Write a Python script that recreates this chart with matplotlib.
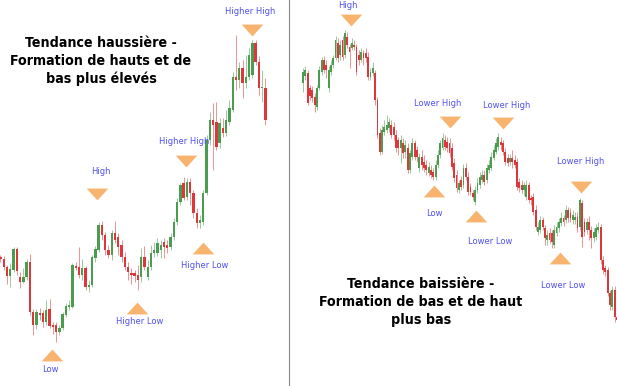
import matplotlib.pyplot as plt
from matplotlib.lines import Line2D
from matplotlib.path import Path
from matplotlib import font_manager

# ---- left panel: uptrend candles (price units)
up_open = [143, 141, 133, 124, 130, 151, 123, 118, 123, 138,
           88, 75, 87, 87, 78, 91, 75, 75, 68, 72,
           85, 93, 93, 134, 133, 125, 132, 113, 115, 142,
           150, 175, 165, 150, 145, 167, 163, 155, 143, 133,
           127, 127, 125, 123, 143, 123, 133, 147, 147, 150,
           158, 155, 153, 163, 178, 198, 217, 203, 218, 207,
           187, 177, 178, 207, 260, 280, 278, 257, 272, 267,
           278, 290, 323, 320, 332, 317, 323, 325, 357, 338,
           312, 312]
up_high = [145, 144, 135, 137, 153, 153, 128, 132, 141, 146,
           91, 91, 92, 90, 100, 101, 78, 78, 75, 88,
           97, 100, 137, 138, 153, 141, 134, 120, 145, 154,
           178, 179, 168, 155, 170, 179, 167, 160, 148, 138,
           132, 130, 135, 152, 154, 140, 155, 158, 162, 160,
           162, 160, 167, 182, 202, 217, 223, 222, 222, 210,
           192, 185, 210, 265, 288, 297, 298, 282, 282, 290,
           300, 328, 365, 338, 340, 345, 352, 360, 360, 344,
           330, 322]
up_low = [138, 130, 116, 113, 128, 125, 112, 117, 120, 85,
          65, 71, 80, 73, 75, 72, 66, 58, 65, 70,
          83, 90, 92, 130, 122, 120, 110, 108, 113, 138,
          148, 160, 145, 142, 140, 157, 145, 138, 130, 120,
          116, 118, 110, 118, 130, 120, 130, 143, 144, 142,
          142, 147, 150, 160, 175, 195, 200, 200, 195, 182,
          172, 172, 175, 205, 255, 230, 250, 252, 263, 264,
          275, 288, 310, 312, 302, 312, 320, 322, 335, 305,
          298, 275]
up_close = [141, 133, 124, 131, 151, 129, 118, 123, 138, 88,
            75, 88, 85, 78, 90, 74, 73, 68, 72, 86,
            94, 95, 135, 132, 125, 132, 113, 115, 143, 151,
            175, 165, 150, 145, 167, 160, 153, 143, 133, 128,
            125, 124, 120, 143, 133, 133, 147, 150, 157, 155,
            153, 152, 163, 178, 198, 215, 202, 218, 207, 187,
            177, 180, 207, 260, 280, 275, 253, 277, 267, 280,
            292, 323, 320, 332, 317, 323, 345, 357, 338, 312,
            313, 280]

# ---- right panel: downtrend candles
dn_open = [317, 324, 327, 312, 310, 303, 293, 312, 328, 340,
           335, 312, 328, 335, 342, 357, 345, 360, 345, 363,
           353, 352, 355, 353, 345, 340, 347, 347, 343, 323,
           327, 327, 300, 267, 248, 268, 270, 272, 275, 273,
           265, 260, 252, 257, 248, 252, 230, 243, 257, 250,
           232, 243, 238, 235, 227, 230, 228, 223, 235, 245,
           252, 260, 258, 257, 252, 237, 225, 210, 220, 215,
           232, 223, 213, 207, 198, 210, 215, 220, 225, 220,
           230, 232, 242, 248, 253, 258, 257, 248, 242, 238,
           242, 240, 238, 218, 215, 210, 203, 215, 202, 203,
           190, 168, 170, 180, 172, 160, 167, 167, 155, 167,
           172, 177, 182, 180, 190, 187, 180, 180, 183, 173,
           197, 178, 170, 178, 170, 162, 163, 170, 173, 140,
           132, 130, 107, 93, 110, 83]
dn_high = [332, 334, 330, 315, 314, 307, 315, 334, 343, 344,
           340, 334, 340, 345, 364, 362, 360, 364, 370, 368,
           356, 362, 360, 356, 350, 352, 350, 352, 348, 332,
           338, 330, 303, 272, 275, 280, 285, 282, 280, 278,
           270, 263, 265, 262, 260, 257, 250, 262, 260, 254,
           247, 250, 245, 240, 238, 235, 232, 240, 250, 260,
           267, 265, 263, 262, 257, 242, 230, 220, 224, 236,
           237, 228, 217, 210, 214, 222, 228, 230, 230, 236,
           240, 248, 255, 262, 267, 263, 260, 252, 246, 246,
           250, 245, 242, 222, 220, 218, 220, 218, 205, 207,
           195, 178, 184, 183, 175, 170, 172, 170, 175, 178,
           182, 188, 185, 195, 193, 192, 190, 188, 188, 202,
           200, 182, 182, 184, 174, 172, 176, 178, 176, 144,
           135, 133, 110, 114, 114, 86]
dn_low = [308, 320, 295, 300, 298, 288, 290, 310, 325, 327,
          322, 308, 325, 332, 340, 338, 340, 340, 342, 352,
          332, 350, 350, 325, 335, 338, 335, 338, 320, 320,
          324, 295, 262, 245, 246, 265, 267, 268, 262, 260,
          248, 245, 237, 242, 242, 227, 227, 240, 240, 238,
          228, 230, 228, 225, 224, 222, 220, 220, 232, 242,
          250, 250, 248, 243, 230, 218, 208, 207, 210, 212,
          220, 205, 205, 200, 195, 207, 212, 217, 215, 217,
          227, 230, 240, 246, 250, 250, 245, 235, 234, 235,
          232, 232, 210, 208, 207, 205, 200, 197, 195, 185,
          170, 165, 167, 170, 155, 155, 157, 152, 152, 164,
          168, 174, 174, 177, 178, 178, 176, 176, 168, 170,
          153, 164, 166, 160, 152, 158, 160, 167, 136, 126,
          124, 104, 90, 90, 78, 75]
dn_close = [328, 330, 297, 304, 302, 295, 312, 330, 340, 330,
            330, 330, 335, 342, 360, 342, 355, 343, 367, 355,
            348, 357, 353, 328, 340, 348, 342, 342, 323, 328,
            332, 300, 265, 248, 270, 273, 275, 278, 265, 265,
            252, 252, 260, 247, 255, 230, 247, 257, 243, 243,
            243, 235, 232, 230, 233, 225, 223, 235, 245, 257,
            262, 253, 252, 247, 233, 222, 212, 217, 213, 232,
            223, 208, 208, 203, 210, 217, 223, 225, 218, 232,
            235, 243, 250, 257, 263, 255, 248, 238, 237, 242,
            238, 235, 213, 212, 210, 215, 215, 200, 200, 188,
            173, 173, 180, 173, 162, 165, 160, 158, 170, 173,
            178, 182, 178, 190, 182, 182, 185, 183, 172, 200,
            163, 168, 178, 170, 162, 168, 172, 173, 140, 130,
            128, 107, 95, 110, 83, 80]

# ---- swing point annotations (candle index, price)
up_labels = ["High", "Higher High", "Higher High", "Low", "Higher Low", "Higher Low"]
up_is_top = [True, True, True, False, False, False]
up_tri_x = [29.5, 56.7, 77.0, 15.8, 41.8, 62.0]
up_tri_y = [206, 239, 370, 45, 92, 152]
up_txt_x = [30.7, 56.1, 76.3, 15.4, 42.7, 62.5]
up_txt_y = [229, 258, 389, 30, 78, 134]

dn_labels = ["High", "Lower High", "Lower High", "Lower High", "Low", "Lower Low", "Lower Low"]
dn_is_top = [True, True, True, True, False, False, False]
dn_tri_x = [20.6, 63.2, 86.0, 119.5, 56.3, 74.4, 110.5]
dn_tri_y = [380, 278, 277, 213, 209, 184, 142]
dn_txt_x = [19.3, 58.0, 87.7, 119.5, 56.3, 80.4, 111.8]
dn_txt_y = [394, 297, 294, 238, 187, 159, 115]

up_title = "Tendance haussière -\nFormation de hauts et de\nbas plus élevés"
dn_title = "Tendance baissière -\nFormation de bas et de haut\nplus bas"

GREEN = '#4a9c4e'
RED = '#de373b'
ORANGE = '#f8b46e'
BLUE = '#5050f2'

tri_down = Path([(-1, 0.55), (1, 0.55), (0, -0.55), (-1, 0.55)])
tri_up = Path([(-1, -0.55), (1, -0.55), (0, 0.55), (-1, -0.55)])

# condensed bold face for the two big titles
title_font = font_manager.FontProperties(family='DejaVu Sans', weight='bold',
                                         stretch='condensed', size=10.2)


def candles(ax, o, h, l, c, width):
    for i in range(len(o)):
        col = GREEN if c[i] >= o[i] else RED
        ax.plot([i, i], [l[i], h[i]], color=col, alpha=0.55, lw=0.7,
                solid_capstyle='butt')
        lo = min(o[i], c[i])
        ht = max(abs(c[i] - o[i]), 1.2)
        ax.bar(i, ht, width=width, bottom=lo, color=col, linewidth=0)


def marks(ax, labels, tops, tx, ty, lx, ly):
    for i in range(len(labels)):
        m = tri_down if tops[i] else tri_up
        ax.plot(tx[i], ty[i], marker=m, markersize=15.5, color=ORANGE,
                markeredgewidth=0, linestyle='none')
        ax.text(lx[i], ly[i], labels[i], color=BLUE, fontsize=6,
                family='DejaVu Sans', ha='center', va='center')


fig = plt.figure(figsize=(6.17, 3.86), dpi=100)

ax1 = fig.add_axes([0, 0, 288 / 617, 1])
candles(ax1, up_open, up_high, up_low, up_close, 0.72)
marks(ax1, up_labels, up_is_top, up_tri_x, up_tri_y, up_txt_x, up_txt_y)
ax1.set_xlim(-0.15, 87.9)
ax1.set_ylim(14, 400)
ax1.axis('off')
ax1.text(101 / 288, 1 - 61 / 386, up_title, transform=ax1.transAxes,
         ha='center', va='center', fontproperties=title_font, linespacing=1.33)

ax2 = fig.add_axes([289 / 617, 0, 328 / 617, 1])
candles(ax2, dn_open, dn_high, dn_low, dn_close, 0.8)
marks(ax2, dn_labels, dn_is_top, dn_tri_x, dn_tri_y, dn_txt_x, dn_txt_y)
ax2.set_xlim(-6.02, 135.0)
ax2.set_ylim(14, 400)
ax2.axis('off')
ax2.text((421 - 289) / 328, 1 - 302 / 386, dn_title, transform=ax2.transAxes,
         ha='center', va='center', fontproperties=title_font, linespacing=1.33)

# divider between the two panels
fig.add_artist(Line2D([288.5 / 617, 288.5 / 617], [0, 1], color='#8a8a8a', lw=0.8))

plt.savefig('out.png', dpi=100)
